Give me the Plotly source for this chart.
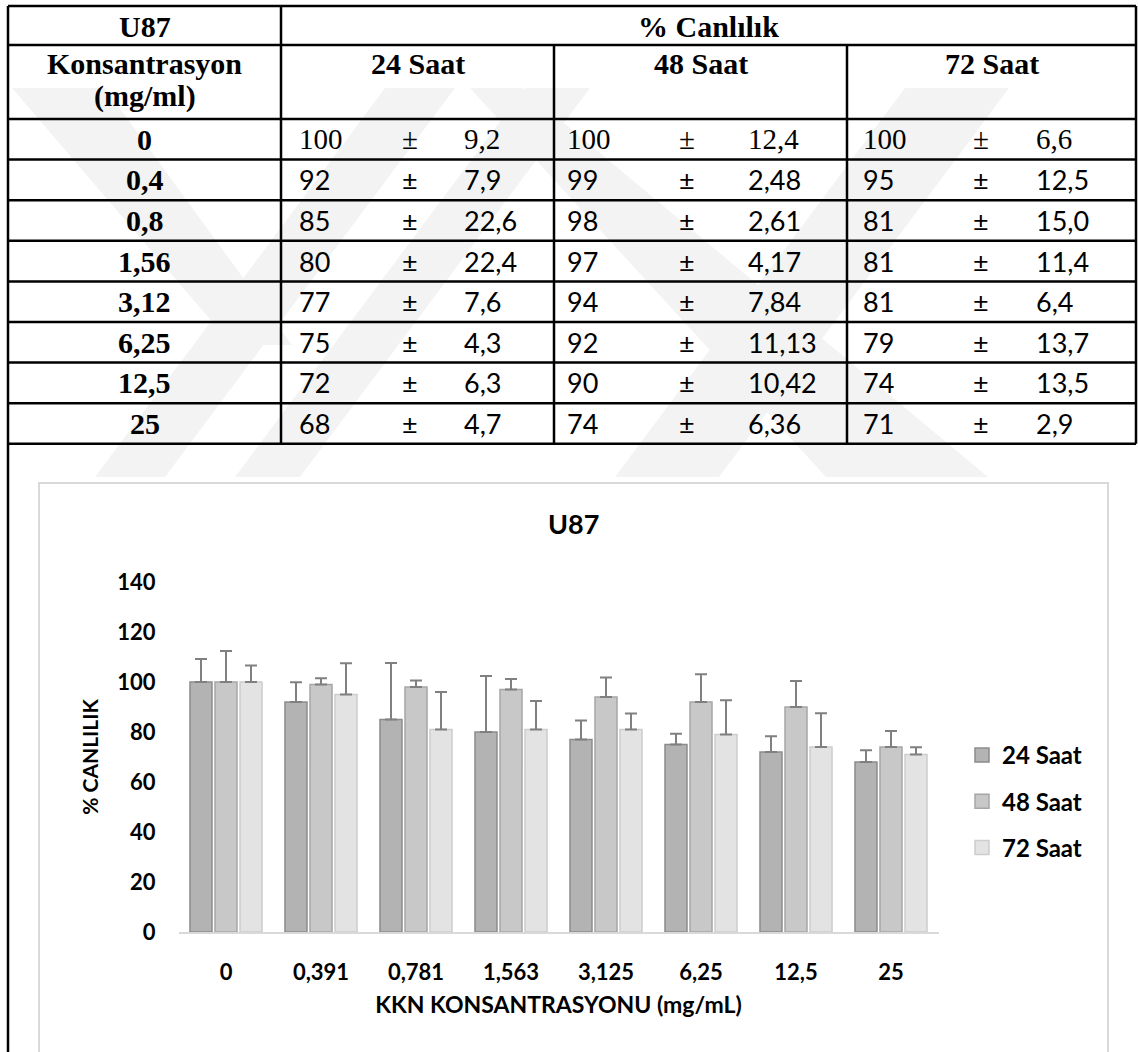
import plotly.graph_objects as go

# Page size in pixels
W, H = 1138, 1052

# ---- data -------------------------------------------------------------
conc_table = ["0", "0,4", "0,8", "1,56", "3,12", "6,25", "12,5", "25"]
conc_chart = ["0", "0,391", "0,781", "1,563", "3,125", "6,25", "12,5", "25"]
hours = ["24 Saat", "48 Saat", "72 Saat"]

mean_24 = [100, 92, 85, 80, 77, 75, 72, 68]
sd_24 = ["9,2", "7,9", "22,6", "22,4", "7,6", "4,3", "6,3", "4,7"]
mean_48 = [100, 99, 98, 97, 94, 92, 90, 74]
sd_48 = ["12,4", "2,48", "2,61", "4,17", "7,84", "11,13", "10,42", "6,36"]
mean_72 = [100, 95, 81, 81, 81, 79, 74, 71]
sd_72 = ["6,6", "12,5", "15,0", "11,4", "6,4", "13,7", "13,5", "2,9"]

y_ticks = [0, 20, 40, 60, 80, 100, 120, 140]


def num(s):
    return float(s.replace(",", "."))


def px(x):
    return x / W


def py(y):
    return 1 - y / H


fig = go.Figure()

# ---- bar chart --------------------------------------------------------
bar_fill = ["#b3b3b3", "#c8c8c8", "#e3e3e3"]
bar_edge = ["#8c8c8c", "#a6a6a6", "#cdcdcd"]
for name, means, sds, fc, ec in zip(hours, [mean_24, mean_48, mean_72],
                                    [sd_24, sd_48, sd_72], bar_fill, bar_edge):
    fig.add_trace(go.Bar(
        x=conc_chart, y=means, name=name, legendgroup=name, showlegend=False,
        marker=dict(color=fc, line=dict(color=ec, width=1.5)),
        error_y=dict(type="data", symmetric=False,
                     array=[num(s) for s in sds], arrayminus=[0] * len(sds),
                     color="#808080", thickness=2, width=6),
    ))

# legend keys: square swatches matching the bar styles
for name, fc, ec in zip(hours, bar_fill, bar_edge):
    fig.add_trace(go.Scatter(
        x=[None], y=[None], mode="markers", name=name, legendgroup=name,
        marker=dict(symbol="square", size=14, color=fc, line=dict(color=ec, width=1.5)),
    ))

shapes = []
annotations = []

# ---- faint background watermark stripes --------------------------------
wm_color = "#f3f3f3"
stripes = [
    [(12, 88), (105, 88), (292, 345), (232, 345)],
    [(95, 477), (165, 477), (455, 88), (385, 88)],
    [(235, 477), (300, 477), (590, 88), (525, 88)],
    [(470, 88), (522, 88), (988, 477), (826, 477)],
    [(615, 477), (719, 477), (1009, 88), (905, 88)],
]
for poly in stripes:
    path = "M " + " L ".join(f"{px(x):.5f},{py(y):.5f}" for x, y in poly) + " Z"
    shapes.append(dict(type="path", path=path, xref="paper", yref="paper",
                       fillcolor=wm_color, line=dict(width=0), layer="below"))

# ---- table grid ---------------------------------------------------------
left, right = 8, 1136
col1, col2, col3 = 281, 554, 847
top, head1, head2 = 6, 45, 119
row_h = 40.6
n_rows = len(conc_table)
bottom = head2 + row_h * n_rows


def hline(y, x0=left, x1=right):
    shapes.append(dict(type="line", xref="paper", yref="paper",
                       x0=px(x0), x1=px(x1), y0=py(y), y1=py(y),
                       line=dict(color="black", width=2.5)))


def vline(x, y0, y1):
    shapes.append(dict(type="line", xref="paper", yref="paper",
                       x0=px(x), x1=px(x), y0=py(y0), y1=py(y1),
                       line=dict(color="black", width=2.5)))


hline(top)
hline(head1)
hline(head2)
for k in range(1, n_rows + 1):
    hline(head2 + row_h * k)
vline(left, top, H + 5)
vline(col1, top, bottom)
vline(col2, head1, bottom)
vline(col3, head1, bottom)
vline(right, top, bottom)

# chart frame
shapes.append(dict(type="rect", xref="paper", yref="paper",
                   x0=px(39), x1=px(1108), y0=py(1060), y1=py(483),
                   line=dict(color="#d9d9d9", width=2), fillcolor="rgba(0,0,0,0)"))

serif = "Liberation Serif"
sans = "Lato"


def text(x, y, s, family, size, bold=False, anchor="center"):
    annotations.append(dict(
        x=px(x), y=py(y), xref="paper", yref="paper", text=s, showarrow=False,
        xanchor=anchor, yanchor="middle",
        font=dict(family=family, size=size, color="black",
                  weight="bold" if bold else "normal")))


# header
text((left + col1) / 2, 26, "U87", serif, 30, True)
text((col1 + right) / 2, 26, "% Canlılık", serif, 30, True)
text((left + col1) / 2, 63, "Konsantrasyon", serif, 30, True)
text((left + col1) / 2, 96, "(mg/ml)", serif, 30, True)
for (a, b), h in zip([(col1, col2), (col2, col3), (col3, right)], hours):
    text((a + b) / 2, 63, h, serif, 30, True)

# body rows
col_layout = [
    (col1, mean_24, sd_24, (16, 129, 181)),
    (col2, mean_48, sd_48, (11, 133, 192)),
    (col3, mean_72, sd_72, (14, 134, 187)),
]
for i, c in enumerate(conc_table):
    yc = head2 + row_h * (i + 0.5)
    text((left + col1) / 2, yc, c, serif, 30, True)
    fam, size = (serif, 29) if i == 0 else (sans, 27)
    for x0, means, sds, (om, opm, osd) in col_layout:
        text(x0 + om, yc, str(means[i]), fam, size, anchor="left")
        text(x0 + opm, yc, "±", fam, size)
        text(x0 + osd, yc, sds[i], fam, size, anchor="left")

# chart title
text(573, 523, "U87", sans, 27, True)

# ---- layout -------------------------------------------------------------
x_dom = [178.5 / W, 938.5 / W]
y_dom = [1 - 932 / H, 1 - 582 / H]
axis_font = dict(family=sans, size=22, color="black", weight="bold")

fig.update_layout(
    width=W, height=H,
    margin=dict(l=0, r=0, t=0, b=0),
    paper_bgcolor="white", plot_bgcolor="rgba(0,0,0,0)",
    barmode="group", bargap=0.21, bargroupgap=0.12,
    shapes=shapes, annotations=annotations,
    showlegend=True,
    legend=dict(x=962 / W, xanchor="left", y=1 - 733 / H, yanchor="top",
                font=dict(family=sans, size=24, color="black", weight="bold"),
                tracegroupgap=12, bgcolor="rgba(0,0,0,0)", itemsizing="trace"),
    xaxis=dict(domain=x_dom, showline=True, linecolor="#d9d9d9", linewidth=2,
               ticks="", showgrid=False, zeroline=False, automargin=False,
               tickfont=axis_font, ticklabelstandoff=20,
               title=dict(text="KKN KONSANTRASYONU (mg/mL)", standoff=12,
                          font=dict(family=sans, size=23, color="black", weight="bold"))),
    yaxis=dict(domain=y_dom, range=[0, 140], tickvals=y_ticks, showline=False,
               showgrid=False, zeroline=False, ticks="", automargin=False,
               tickfont=axis_font, ticklabelstandoff=22,
               title=dict(text="% CANLILIK", standoff=12,
                          font=dict(family=sans, size=21, color="black", weight="bold"))),
)

fig.write_html("out.html")
